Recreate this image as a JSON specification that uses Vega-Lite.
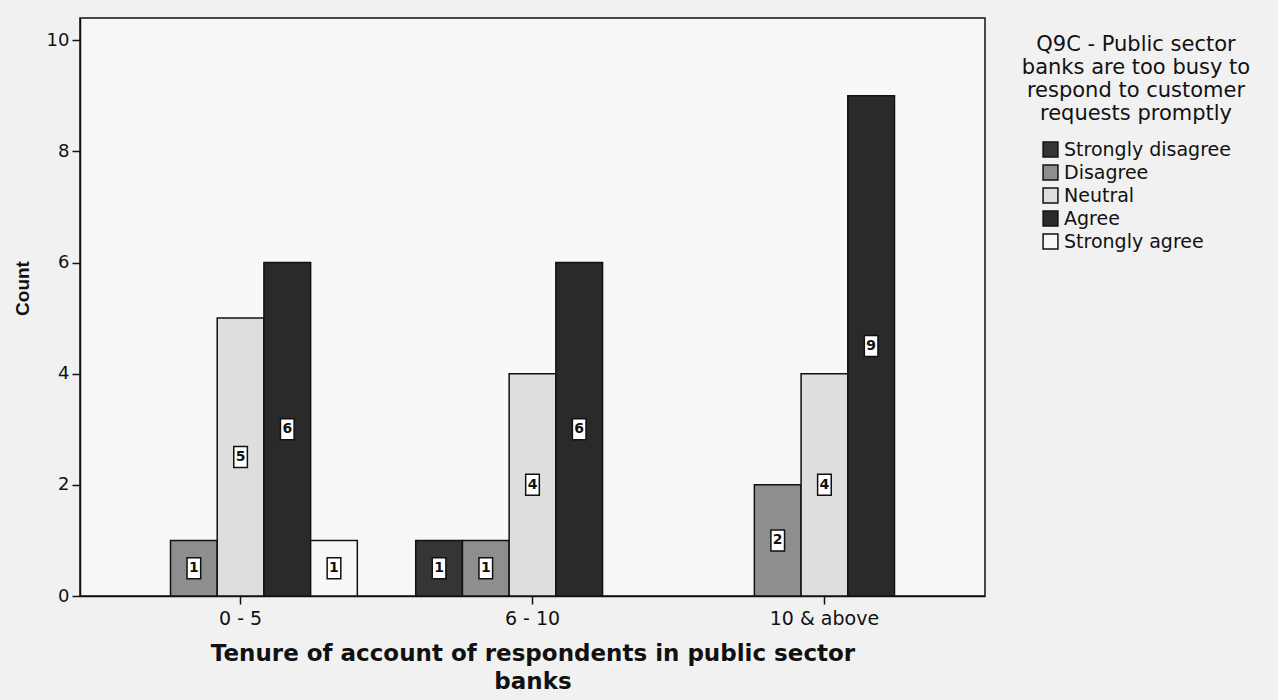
{
  "$schema": "https://vega.github.io/schema/vega-lite/v6.json",
  "autosize": "none",
  "width": 905,
  "height": 578,
  "padding": {"left": 80, "top": 18, "right": 293, "bottom": 104},
  "background": "#f1f1f1",
  "config": {
    "view": {"stroke": "#111111", "strokeWidth": 1.5, "fill": "#f8f8f8"},
    "font": "DejaVu Sans"
  },
  "data": {
    "values": [
      {"tenure": "0 - 5", "response": "Disagree", "count": 1},
      {"tenure": "0 - 5", "response": "Neutral", "count": 5},
      {"tenure": "0 - 5", "response": "Agree", "count": 6},
      {"tenure": "0 - 5", "response": "Strongly agree", "count": 1},
      {"tenure": "6 - 10", "response": "Strongly disagree", "count": 1},
      {"tenure": "6 - 10", "response": "Disagree", "count": 1},
      {"tenure": "6 - 10", "response": "Neutral", "count": 4},
      {"tenure": "6 - 10", "response": "Agree", "count": 6},
      {"tenure": "10 & above", "response": "Disagree", "count": 2},
      {"tenure": "10 & above", "response": "Neutral", "count": 4},
      {"tenure": "10 & above", "response": "Agree", "count": 9}
    ]
  },
  "encoding": {
    "x": {
      "field": "tenure", "type": "nominal",
      "sort": ["0 - 5", "6 - 10", "10 & above"],
      "scale": {"paddingInner": 0.2, "paddingOuter": 0.15},
      "axis": {
        "title": ["Tenure of account of respondents in public sector", "banks"],
        "titleFont": "DejaVu Sans", "titleFontWeight": "bold", "titleFontSize": 23,
        "titleColor": "#111111", "titlePadding": 14, "titleLineHeight": 28,
        "labelAngle": 0, "labelFontSize": 19, "labelColor": "#111111", "labelPadding": 5,
        "tickSize": 8, "tickColor": "#111111", "tickWidth": 1.5,
        "domainColor": "#111111", "domainWidth": 1.5
      }
    },
    "xOffset": {
      "field": "response", "type": "nominal",
      "scale": {"domain": ["Strongly disagree", "Disagree", "Neutral", "Agree", "Strongly agree"], "paddingInner": 0, "paddingOuter": 0}
    }
  },
  "layer": [
    {
      "mark": {"type": "bar", "stroke": "#111111", "strokeWidth": 1.5},
      "encoding": {
        "y": {
          "field": "count", "type": "quantitative",
          "scale": {"domain": [0, 10.4], "nice": false},
          "axis": {
            "title": "Count", "titleFont": "Liberation Sans", "titleFontSize": 19, "titleFontWeight": "bold",
            "titleColor": "#111111", "titlePadding": 14, "titleY": 270,
            "values": [0, 2, 4, 6, 8, 10], "grid": false,
            "labelFontSize": 18, "labelColor": "#111111", "labelPadding": 3,
            "tickSize": 8, "tickColor": "#111111", "tickWidth": 1.5,
            "domainColor": "#111111", "domainWidth": 1.5
          }
        },
        "color": {
          "field": "response", "type": "nominal",
          "scale": {
            "domain": ["Strongly disagree", "Disagree", "Neutral", "Agree", "Strongly agree"],
            "range": ["#353535", "#8e8e8e", "#dedede", "#2a2a2a", "#f7f7f7"]
          },
          "legend": {
            "title": ["Q9C - Public sector", "banks are too busy to", "respond to customer", "requests promptly"],
            "orient": "none", "legendX": 942, "legendY": 16,
            "titleAnchor": "middle", "titleAlign": "center", "titleLimit": 400,
            "titleFont": "DejaVu Sans", "titleFontSize": 21, "titleFontWeight": "normal",
            "titleColor": "#111111", "titleLineHeight": 23, "titlePadding": 16,
            "labelFont": "DejaVu Sans", "labelFontSize": 19, "labelColor": "#111111", "labelLimit": 300,
            "symbolType": "square", "symbolSize": 220, "symbolStrokeColor": "#111111",
            "symbolStrokeWidth": 1.5, "rowPadding": 2, "labelOffset": 4
          }
        }
      }
    },
    {
      "mark": {"type": "point", "shape": "M-0.65,-1H0.65V1H-0.65Z", "size": 440, "filled": true, "fill": "#ffffff", "stroke": "#111111", "strokeWidth": 1.5, "opacity": 1},
      "encoding": {
        "y": {"field": "count", "type": "quantitative", "scale": {"domain": [0, 20.8], "nice": false}, "axis": null}
      }
    },
    {
      "mark": {"type": "text", "font": "DejaVu Sans", "fontSize": 14, "fontWeight": "bold", "color": "#111111", "baseline": "middle", "align": "center"},
      "encoding": {
        "y": {"field": "count", "type": "quantitative", "scale": {"domain": [0, 20.8], "nice": false}, "axis": null},
        "text": {"field": "count", "type": "quantitative"}
      }
    }
  ],
  "resolve": {"scale": {"y": "independent"}}
}
